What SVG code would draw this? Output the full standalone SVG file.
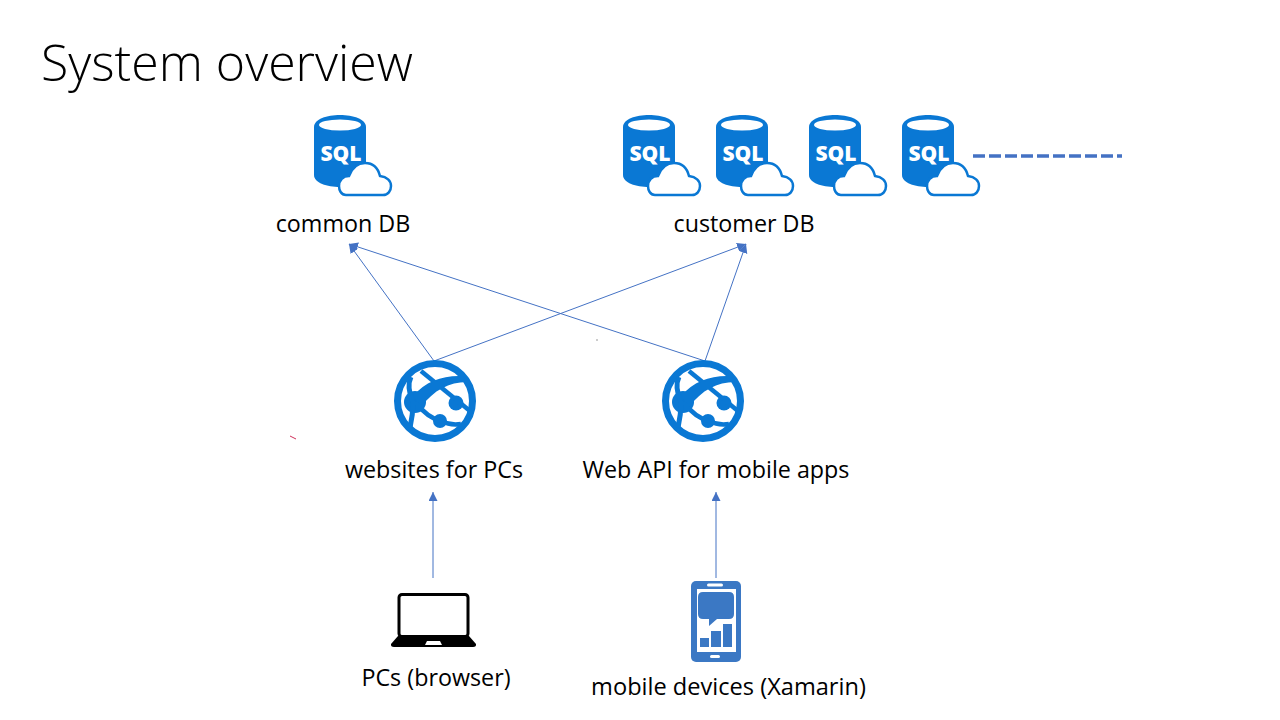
<svg xmlns="http://www.w3.org/2000/svg" xmlns:xlink="http://www.w3.org/1999/xlink" width="1280" height="720" viewBox="0 0 1280 720">
<style>
text{font-family:"Open Sans","Noto Sans","Liberation Sans",sans-serif;fill:#000}
.title{font-size:50px;font-weight:300}
.label{font-size:23.300px;text-anchor:middle}
.wide{font-size:23.600px}
.sql{font-family:"Open Sans","Liberation Sans",sans-serif;font-size:21px;font-weight:800;fill:#fff;text-anchor:middle}
.conn{fill:none;stroke:#4472c4;stroke-width:1;marker-end:url(#arrow)}
.g{fill:none;stroke:#0a78d4}
</style>
<defs>
<marker id="arrow" markerUnits="userSpaceOnUse" markerWidth="11" markerHeight="11" refX="9" refY="4.500" orient="auto"><path d="M0 0L9 4.500L0 9Z" fill="#4472c4"/></marker>
<g id="db-icon">
<path d="M314 127C314 119 327 115 340 115C353 115 366 119 366 127V175C366 183 353 187 340 187C327 187 314 183 314 175Z" fill="#0a78d4"/>
<ellipse cx="340" cy="125" rx="21" ry="5.500" fill="#fff"/>
<text class="sql" x="341" y="161">SQL</text>
<path d="M346 195C341 195 339 190 339 186C339 180 343 176 349 176C352 168 358 163 365 163C373 163 378 168 380 176C387 177 391 181 391 186C391 191 388 195 383 195Z" fill="#fff" stroke="#0a78d4" stroke-width="2.500"/>
</g>
<g id="globe-icon">
<circle cx="435" cy="401" r="37.500" class="g" stroke-width="7"/>
<circle cx="415" cy="402" r="11" fill="#0a78d4"/>
<circle cx="456" cy="403" r="7.500" fill="#0a78d4"/>
<circle cx="440" cy="421" r="7" fill="#0a78d4"/>
<path d="M413 396C426 381 443 375 463 376L467 382C449 382 434 390 421 407Z" fill="#0a78d4"/>
<path d="M421 371L470 411" class="g" stroke-width="4.500"/>
<path d="M411 377C407 385 409 393 413 402C413 411 412 419 410 428" class="g" stroke-width="5"/>
<path d="M415 402C423 412 432 419 441 421C449 425 455 425 461 424" class="g" stroke-width="4.500"/>
</g>
</defs>
<rect width="1280" height="720" fill="#fff"/>
<text class="title" x="41" y="81">System overview</text>
<g id="connectors">
<path class="conn" d="M434 361L349 244"/>
<path class="conn" d="M434 361L746 244"/>
<path class="conn" d="M705 361L349 244"/>
<path class="conn" d="M705 361L746 244"/>
<path class="conn" d="M433 578V492"/>
<path class="conn" d="M716 578V492"/>
<path d="M973 156H1122" fill="none" stroke="#4472c4" stroke-width="3.500" stroke-dasharray="12 4"/>
</g>
<g id="common-db"><use xlink:href="#db-icon" href="#db-icon"/><text class="label" x="343" y="231.500">common DB</text></g>
<g id="customer-db">
<use xlink:href="#db-icon" href="#db-icon" x="309"/>
<use xlink:href="#db-icon" href="#db-icon" x="402"/>
<use xlink:href="#db-icon" href="#db-icon" x="495"/>
<use xlink:href="#db-icon" href="#db-icon" x="588"/>
<text class="label" x="744" y="231.500">customer DB</text>
</g>
<g id="websites"><use xlink:href="#globe-icon" href="#globe-icon"/><text class="label" x="434" y="477.500">websites for PCs</text></g>
<g id="web-api"><use xlink:href="#globe-icon" href="#globe-icon" x="268"/><text class="label" x="716" y="477.500">Web API for mobile apps</text></g>
<g id="pcs">
<rect x="399" y="594.500" width="69" height="42" rx="3" fill="#fff" stroke="#000" stroke-width="3"/>
<path d="M398 636H469L476 644Q476.500 647 473 647H394Q390.500 647 391 644Z" fill="#000"/>
<path d="M427 641H440L442 645H425Z" fill="#fff"/>
<text class="label" x="436" y="685.500">PCs (browser)</text>
</g>
<g id="mobile">
<rect x="691" y="581" width="50" height="81" rx="5" fill="#3b78c4"/>
<rect x="697" y="589" width="39" height="63" fill="#fff"/>
<rect x="707" y="583.500" width="16" height="3" rx="1.500" fill="#fff"/>
<rect x="710" y="655" width="10" height="3" rx="1.500" fill="#fff"/>
<path d="M703 592H729Q734 592 734 597V614Q734 619 729 619H717L709 626V619H703Q698 619 698 614V597Q698 592 703 592Z" fill="#3b78c4"/>
<rect x="700" y="638" width="9" height="9" fill="#3b78c4"/>
<rect x="711" y="631" width="10" height="16" fill="#3b78c4"/>
<rect x="723" y="624" width="9" height="23" fill="#3b78c4"/>
<text class="label wide" x="728.500" y="694.500">mobile devices (Xamarin)</text>
</g>
<path d="M290 436L296 439" fill="none" stroke="#d0305a" stroke-width="1"/>
<path d="M597 339V341" fill="none" stroke="#999" stroke-width="1"/>
</svg>
